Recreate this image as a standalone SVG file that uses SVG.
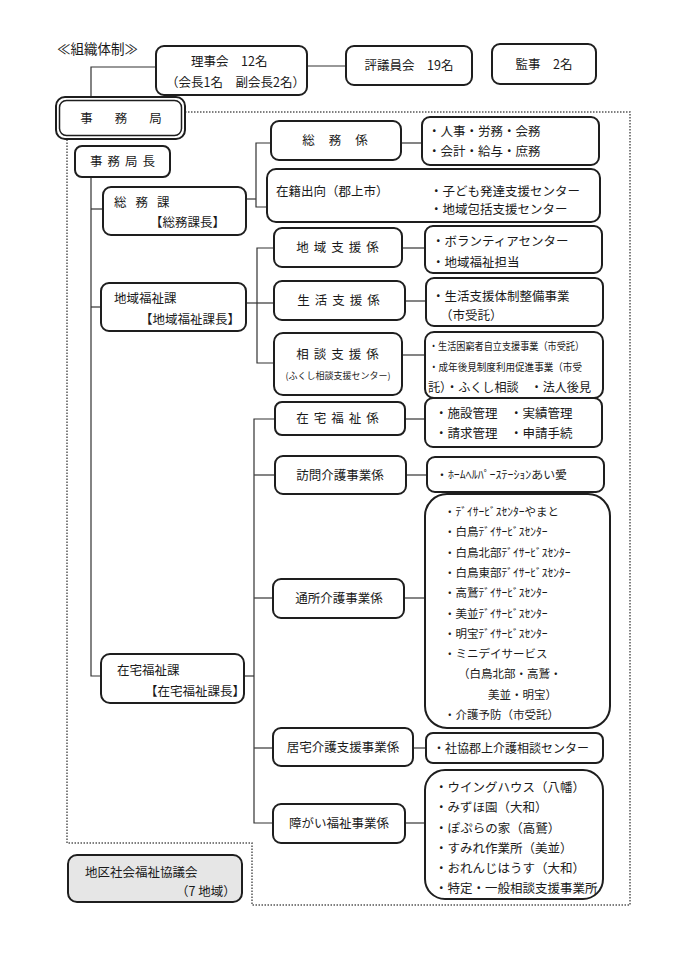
<svg xmlns="http://www.w3.org/2000/svg" width="678" height="960" viewBox="0 0 678 960">
<style>
.bx{fill:#fff;stroke:#1e1e1e;stroke-width:2}
.gb{fill:#e6e6e6;stroke:#1e1e1e;stroke-width:2}
.t{font-family:"Noto Sans CJK JP","Noto Sans",sans-serif;font-size:12.5px;fill:#1a1a1a}
.c{text-anchor:middle}
.s{font-size:11.5px}
.ln{fill:none;stroke:#333;stroke-width:1.2}
.dt{fill:none;stroke:#555;stroke-width:1.5;stroke-dasharray:1.5 1.5}
</style>
<rect width="678" height="960" fill="#fff"/>
<text class="t" x="57" y="54" style="font-size:13.5px">≪組織体制≫</text>
<g id="connectors">
<path class="dt" d="M185,112 H630 V905 H252 V843 H67 V139"/>
<path class="ln" d="M156,67 H91 V97"/>
<path class="ln" d="M307,66 H346"/>
<path class="ln" d="M91,177 V676 H101"/>
<path class="ln" d="M91,209 H103"/>
<path class="ln" d="M91,307 H101"/>
<path class="ln" d="M246,199 H256"/>
<path class="ln" d="M271,143 H256 V207 H267"/>
<path class="ln" d="M401,143 H422"/>
<path class="ln" d="M246,303 H274"/>
<path class="ln" d="M274,248 H257 V363 H274"/>
<path class="ln" d="M402,248 H425"/>
<path class="ln" d="M405,301 H426"/>
<path class="ln" d="M402,355 H425"/>
<path class="ln" d="M275,419 H254 V823 H273"/>
<path class="ln" d="M254,475 H275"/>
<path class="ln" d="M254,598 H273"/>
<path class="ln" d="M244,676 H254"/>
<path class="ln" d="M254,748 H273"/>
<path class="ln" d="M405,419 H425"/>
<path class="ln" d="M406,475 H427"/>
<path class="ln" d="M404,598 H425"/>
<path class="ln" d="M413,748 H426"/>
<path class="ln" d="M405,823 H425"/>
</g>
<g id="rijikai">
<rect class="bx" x="156" y="46" width="151" height="49" rx="8"/>
<text class="t" x="191" y="66">理事会　12名</text>
<text class="t" x="166" y="87">（会長1名　副会長2名）</text>
</g>
<g id="hyogiinkai">
<rect class="bx" x="346" y="46" width="126" height="39" rx="8"/>
<text class="t c" x="409" y="70">評議員会　19名</text>
</g>
<g id="kanji">
<rect class="bx" x="492" y="44" width="104" height="40" rx="8"/>
<text class="t c" x="544" y="69">監事　2名</text>
</g>
<g id="jimukyoku">
<rect class="bx" x="56" y="97" width="129" height="42" rx="9"/>
<rect x="59.5" y="100.5" width="122" height="35" rx="7" fill="none" stroke="#1e1e1e" stroke-width="1.5"/>
<text class="t c" x="132" y="123" style="letter-spacing:22px">事務局</text>
</g>
<g id="jimukyokucho">
<rect class="bx" x="75" y="146" width="95" height="31" rx="7"/>
<text class="t c" x="125" y="166" style="letter-spacing:5px">事務局長</text>
</g>
<g id="somuka">
<rect class="bx" x="103" y="187" width="143" height="48" rx="8"/>
<text class="t" x="114" y="207" style="letter-spacing:9px">総務課</text>
<text class="t" x="150" y="227">【総務課長】</text>
</g>
<g id="somukakari">
<rect class="bx" x="271" y="121" width="130" height="39" rx="8"/>
<text class="t c" x="342" y="145" style="letter-spacing:14px">総務係</text>
</g>
<g id="somu-info">
<rect class="bx" x="422" y="117" width="177" height="48" rx="8"/>
<text class="t" x="428" y="136">・人事・労務・会務</text>
<text class="t" x="428" y="156">・会計・給与・庶務</text>
</g>
<g id="zaiseki">
<rect class="bx" x="267" y="169" width="333" height="53" rx="9"/>
<text class="t" x="276" y="196">在籍出向（郡上市）</text>
<text class="t" x="430" y="196">・子ども発達支援センター</text>
<text class="t" x="430" y="214">・地域包括支援センター</text>
</g>
<g id="chiikifukushika">
<rect class="bx" x="101" y="283" width="145" height="48" rx="8"/>
<text class="t" x="114" y="303">地域福祉課</text>
<text class="t" x="140" y="324">【地域福祉課長】</text>
</g>
<g id="chiikishien">
<rect class="bx" x="274" y="228" width="128" height="39" rx="8"/>
<text class="t c" x="340" y="252" style="letter-spacing:5px">地域支援係</text>
</g>
<g id="chiikishien-info">
<rect class="bx" x="425" y="226" width="177" height="47" rx="8"/>
<text class="t" x="432" y="246">・ボランティアセンター</text>
<text class="t" x="432" y="267">・地域福祉担当</text>
</g>
<g id="seikatsushien">
<rect class="bx" x="274" y="281" width="131" height="39" rx="8"/>
<text class="t c" x="341" y="305" style="letter-spacing:5px">生活支援係</text>
</g>
<g id="seikatsushien-info">
<rect class="bx" x="426" y="278" width="177" height="48" rx="8"/>
<text class="t" x="432" y="301">・生活支援体制整備事業</text>
<text class="t" x="440" y="320">（市受託）</text>
</g>
<g id="sodanshien">
<rect class="bx" x="274" y="333" width="128" height="62" rx="9"/>
<text class="t c" x="340" y="359" style="letter-spacing:5px">相談支援係</text>
<text class="t c" x="338" y="379" style="font-size:9px">(ふくし相談支援センター)</text>
</g>
<g id="sodanshien-info">
<rect class="bx" x="425" y="332" width="178" height="66" rx="9"/>
<text class="t" x="429" y="350" style="font-size:10.5px" textLength="155" lengthAdjust="spacingAndGlyphs">・生活困窮者自立支援事業（市受託）</text>
<text class="t" x="429" y="371" style="font-size:10.5px" textLength="153" lengthAdjust="spacingAndGlyphs">・成年後見制度利用促進事業（市受</text>
<text class="t" x="428" y="392" textLength="163" lengthAdjust="spacingAndGlyphs">託）・ふくし相談　・法人後見</text>
</g>
<g id="zaitakufukushika">
<rect class="bx" x="101" y="654" width="143" height="49" rx="9"/>
<text class="t" x="117" y="675">在宅福祉課</text>
<text class="t" x="145" y="696">【在宅福祉課長】</text>
</g>
<g id="zaitakufukushikakari">
<rect class="bx" x="275" y="402" width="130" height="33" rx="7"/>
<text class="t c" x="340" y="423" style="letter-spacing:5px">在宅福祉係</text>
</g>
<g id="zaitakufukushikakari-info">
<rect class="bx" x="425" y="398" width="177" height="49" rx="8"/>
<text class="t" x="435" y="418">・施設管理　・実績管理</text>
<text class="t" x="435" y="438">・請求管理　・申請手続</text>
</g>
<g id="homonkaigo">
<rect class="bx" x="275" y="456" width="131" height="38" rx="8"/>
<text class="t c" x="340" y="480">訪問介護事業係</text>
</g>
<g id="homonkaigo-info">
<rect class="bx" x="427" y="457" width="177" height="35" rx="8"/>
<text class="t s" x="436" y="479" textLength="131" lengthAdjust="spacingAndGlyphs">・ﾎｰﾑﾍﾙﾊﾟｰｽﾃｰｼｮﾝあい愛</text>
</g>
<g id="tsushokaigo">
<rect class="bx" x="273" y="579" width="131" height="39" rx="8"/>
<text class="t c" x="339" y="603">通所介護事業係</text>
</g>
<g id="tsushokaigo-info">
<rect class="bx" x="425" y="494" width="185" height="234" rx="22"/>
<text class="t s" x="444" y="516">・ﾃﾞｲｻｰﾋﾞｽｾﾝﾀｰやまと</text>
<text class="t s" x="444" y="536">・白鳥ﾃﾞｲｻｰﾋﾞｽｾﾝﾀｰ</text>
<text class="t s" x="444" y="556.5">・白鳥北部ﾃﾞｲｻｰﾋﾞｽｾﾝﾀｰ</text>
<text class="t s" x="444" y="577">・白鳥東部ﾃﾞｲｻｰﾋﾞｽｾﾝﾀｰ</text>
<text class="t s" x="444" y="597">・高鷲ﾃﾞｲｻｰﾋﾞｽｾﾝﾀｰ</text>
<text class="t s" x="444" y="617.5">・美並ﾃﾞｲｻｰﾋﾞｽｾﾝﾀｰ</text>
<text class="t s" x="444" y="637.5">・明宝ﾃﾞｲｻｰﾋﾞｽｾﾝﾀｰ</text>
<text class="t s" x="444" y="658">・ミニデイサービス</text>
<text class="t s" x="458" y="678">（白鳥北部・高鷲・</text>
<text class="t s" x="488" y="698.5">美並・明宝）</text>
<text class="t s" x="444" y="718.5">・介護予防（市受託）</text>
</g>
<g id="kyotakukaigo">
<rect class="bx" x="273" y="728" width="140" height="38" rx="8"/>
<text class="t c" x="343" y="752">居宅介護支援事業係</text>
</g>
<g id="kyotakukaigo-info">
<rect class="bx" x="426" y="733" width="177" height="30" rx="7"/>
<text class="t" x="433" y="753" style="font-size:12px">・社協郡上介護相談センター</text>
</g>
<g id="shogaifukushi">
<rect class="bx" x="273" y="804" width="132" height="39" rx="8"/>
<text class="t c" x="339" y="828">障がい福祉事業係</text>
</g>
<g id="shogaifukushi-info">
<rect class="bx" x="425" y="770" width="178" height="129" rx="20"/>
<text class="t" x="435" y="792">・ウイングハウス（八幡）</text>
<text class="t" x="435" y="812">・みずほ園（大和）</text>
<text class="t" x="435" y="832.5">・ぽぷらの家（高鷲）</text>
<text class="t" x="435" y="852.5">・すみれ作業所（美並）</text>
<text class="t" x="435" y="873">・おれんじはうす（大和）</text>
<text class="t" x="435" y="893">・特定・一般相談支援事業所</text>
</g>
<g id="chikushakyo">
<rect class="gb" x="68" y="855" width="174" height="47" rx="9"/>
<text class="t" x="85" y="877">地区社会福祉協議会</text>
<text class="t" x="176" y="896">（7 地域）</text>
</g>
</svg>
